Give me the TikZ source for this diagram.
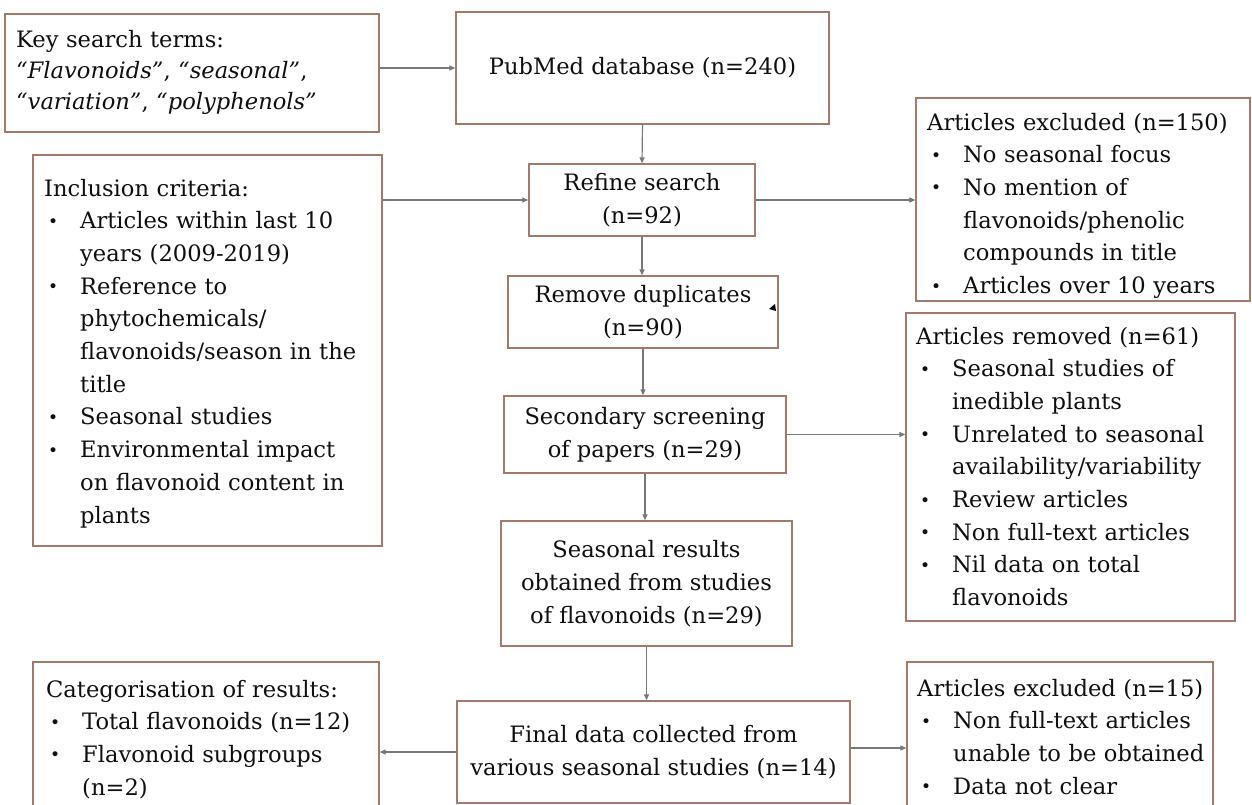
\documentclass[tikz,border=0pt]{standalone}
\usepackage{fontspec}
\setmainfont{DejaVu Serif}
\usetikzlibrary{arrows.meta}
\definecolor{boxc}{RGB}{160,122,108}
\definecolor{arrc}{RGB}{120,120,120}
\definecolor{txt}{RGB}{15,15,15}
\newcommand\bfnt{\fontsize{22.6}{32.7}\selectfont}
\newcommand\kfnt{\fontsize{22.6}{31}\selectfont}
\newcommand\hl[1]{\parskip=0pt\noindent\strut#1}
\newcommand\bl[1]{\par\noindent\makebox[36pt][l]{\hspace{4pt}\raisebox{1.5pt}{\fontsize{17}{17}\selectfont\textbullet}}#1}
\newcommand\cl[1]{\par\noindent\hspace*{36pt}#1}
\tikzset{
  bx/.style={draw=boxc, line width=1.3pt, rectangle, inner sep=0pt},
  ctext/.style={bx, align=center, font=\bfnt, text=txt},
  ltext/.style={anchor=north west, inner sep=0pt, text width=#1, align=left, font=\bfnt, text=txt},
  ltext/.default=340pt,
  arr/.style={draw=arrc, line width=1.2pt, -{Triangle[length=6pt,width=5pt]}}
}
\begin{document}
\begin{tikzpicture}[x=1pt,y=-1pt]
\useasboundingbox (0,0) rectangle (1252,805);
\clip (0,0) rectangle (1252,805);
\fill[white] (0,0) rectangle (1252,805);
% boxes
\node[bx, minimum width=374pt, minimum height=118pt] (key) at (192,73) {};
\node[ctext, minimum width=373pt, minimum height=112pt] (pub) at (642.5,68) {PubMed database (n=240)};
\node[ctext, minimum width=226pt, minimum height=72pt] (refine) at (642,200) {Refine search\\(n=92)};
\node[bx, minimum width=334pt, minimum height=203pt] (excl1) at (1083,199.5) {};
\node[bx, minimum width=349pt, minimum height=391pt] (incl) at (207.5,350.5) {};
\node[ctext, minimum width=270pt, minimum height=72pt] (remove) at (643,312) {Remove duplicates\\(n=90)};
\node[ctext, minimum width=282pt, minimum height=77pt] (second) at (645,434.5) {Secondary screening\\of papers (n=29)};
\node[bx, minimum width=329pt, minimum height=308pt] (removed) at (1070.5,467) {};
\node[ctext, minimum width=291pt, minimum height=125pt] (season) at (646.5,583.5) {Seasonal results\\obtained from studies\\of flavonoids (n=29)};
\node[ctext, minimum width=393pt, minimum height=102pt] (final) at (653.5,752) {Final data collected from\\various seasonal studies (n=14)};
\node[bx, minimum width=346pt, minimum height=168pt] (cat) at (206,746) {};
\node[bx, minimum width=306pt, minimum height=168pt] (excl15) at (1060,746) {};
% texts
\node[ltext, font=\kfnt] (keyt) at (16,25.3) {\hl{Key search terms:}\par\noindent\textit{“Flavonoids”}, \textit{“seasonal”},\par\noindent\textit{“variation”}, \textit{“polyphenols”}};
\node[ltext] (inclt) at (44,173) {\hl{Inclusion criteria:}\bl{Articles within last 10}\cl{years (2009-2019)}\bl{Reference to}\cl{phytochemicals/}\cl{flavonoids/season in the}\cl{title}\bl{Seasonal studies}\bl{Environmental impact}\cl{on flavonoid content in}\cl{plants}};
\node[ltext] (excl1t) at (927,107) {\hl{Articles excluded (n=150)}\bl{No seasonal focus}\bl{No mention of}\cl{flavonoids/phenolic}\cl{compounds in title}\bl{Articles over 10 years}};
\node[ltext] (removedt) at (916,321) {\hl{Articles removed (n=61)}\bl{Seasonal studies of}\cl{inedible plants}\bl{Unrelated to seasonal}\cl{availability/variability}\bl{Review articles}\bl{Non full-text articles}\bl{Nil data on total}\cl{flavonoids}};
\node[ltext] (catt) at (46,674) {\hl{Categorisation of results:}\bl{Total flavonoids (n=12)}\bl{Flavonoid subgroups}\cl{(n=2)}};
\node[ltext] (excl15t) at (917,673) {\hl{Articles excluded (n=15)}\bl{Non full-text articles}\cl{unable to be obtained}\bl{Data not clear}};
% connectors
\draw[arr] (pub.west -| key.east) -- (pub.west);
\draw[arr] (pub.south) -- (refine.north);
\draw[arr] (refine.west -| incl.east) -- (refine.west);
\draw[arr] (refine.east) -- (refine.east -| excl1.west);
\draw[arr] (refine.south) -- (remove.north -| refine.south);
\draw[arr] (remove.south) -- (remove.south |- second.north);
\draw[arr] (second.east) -- (second.east -| removed.west);
\draw[arr] (second.south) -- (second.south |- season.north);
\draw[arr] (season.south) -- (season.south |- final.north);
\draw[arr] (final.west) -- (final.west -| cat.east);
\draw[arr] ([yshift=4pt]final.east) -- ([yshift=4pt]final.east -| excl15.west);
% stray tip
\fill[black] (769,309) -- (775,304) -- (776,311) -- cycle;
\end{tikzpicture}
\end{document}
